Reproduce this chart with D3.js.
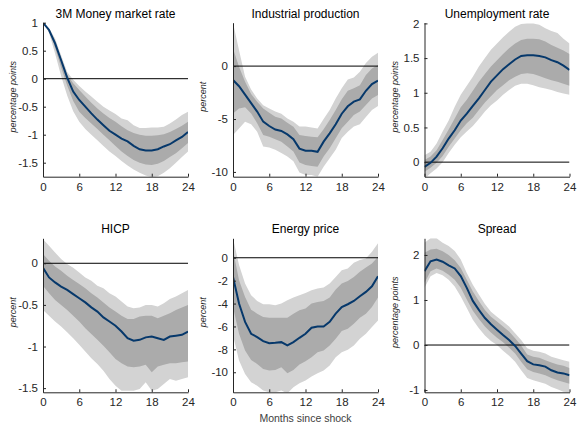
<!DOCTYPE html>
<html>
<head>
<meta charset="utf-8">
<script src="https://cdn.jsdelivr.net/npm/d3@7"></script>
<style>
  body { margin: 0; background: #fff; }
  svg text { font-family: "Liberation Sans", Arial, sans-serif; fill: #262626; }
</style>
</head>
<body>
<svg id="drawing_region"></svg>
<script>
// months since shock
var months = d3.range(0, 25);

// 3M Money market rate
var rateMed  = [1.0,0.87,0.63,0.33,0.02,-0.23,-0.38,-0.5,-0.62,-0.73,-0.83,-0.93,-1.0,-1.07,-1.12,-1.2,-1.26,-1.28,-1.28,-1.26,-1.21,-1.17,-1.1,-1.04,-0.95];
var rateIn   = [[1.0,0.85,0.55,0.2,-0.12,-0.4,-0.59,-0.7,-0.8,-0.9,-1.0,-1.1,-1.2,-1.3,-1.38,-1.45,-1.5,-1.53,-1.54,-1.52,-1.47,-1.4,-1.33,-1.24,-1.15],
                [1.0,0.88,0.68,0.37,0.07,-0.08,-0.2,-0.32,-0.43,-0.53,-0.62,-0.7,-0.77,-0.85,-0.92,-0.97,-1.0,-1.02,-1.02,-1.01,-0.99,-0.95,-0.9,-0.84,-0.77]];
var rateOut  = [[1.0,0.82,0.45,0.05,-0.3,-0.58,-0.77,-0.9,-1.0,-1.1,-1.2,-1.3,-1.38,-1.47,-1.55,-1.62,-1.68,-1.73,-1.76,-1.74,-1.68,-1.6,-1.5,-1.4,-1.3],
                [1.0,0.9,0.72,0.42,0.12,-0.02,-0.13,-0.23,-0.32,-0.41,-0.5,-0.57,-0.63,-0.71,-0.74,-0.83,-0.88,-0.88,-0.87,-0.87,-0.86,-0.8,-0.73,-0.65,-0.59]];

// Industrial production
var ipMed  = [-1.32,-1.9,-2.7,-3.5,-4.3,-5.25,-5.66,-6.0,-6.13,-6.45,-6.9,-7.8,-8.0,-8.0,-8.1,-7.14,-6.35,-5.5,-4.5,-3.8,-3.36,-3.15,-2.33,-1.7,-1.38];
var ipIn   = [[-4.47,-4.0,-3.9,-4.47,-5.4,-6.5,-6.67,-6.9,-7.14,-7.6,-8.08,-9.1,-9.34,-9.43,-9.5,-8.55,-7.77,-6.82,-5.88,-5.25,-4.62,-4.3,-3.68,-3.05,-2.74],
              [1.67,-0.06,-1.48,-2.64,-3.36,-4.0,-4.4,-4.78,-4.94,-5.35,-5.72,-6.5,-6.6,-6.67,-6.73,-5.97,-5.1,-4.15,-3.14,-2.33,-2.1,-1.8,-0.85,-0.22,0.1]];
var ipOut  = [[-6.5,-5.9,-5.25,-5.5,-6.2,-7.6,-7.7,-7.9,-8.2,-8.55,-9.0,-10.05,-10.3,-10.3,-10.45,-9.5,-8.7,-7.9,-6.8,-6.2,-5.7,-5.5,-4.8,-4.15,-3.77],
              [4.1,1.5,-1.0,-2.2,-3.05,-3.7,-4.0,-4.3,-4.5,-4.95,-5.25,-5.7,-5.7,-5.8,-5.9,-5.0,-4.15,-3.05,-2.1,-1.26,-1.07,-0.53,0.3,0.88,1.25]];

// Unemployment rate
var unMed  = [-0.07,-0.01,0.08,0.2,0.34,0.46,0.6,0.7,0.81,0.92,1.04,1.16,1.25,1.34,1.41,1.48,1.53,1.54,1.54,1.53,1.51,1.47,1.44,1.39,1.33];
var unIn   = [[-0.14,-0.08,-0.01,0.09,0.22,0.34,0.46,0.56,0.64,0.75,0.86,0.95,1.04,1.11,1.18,1.23,1.27,1.28,1.27,1.24,1.21,1.18,1.16,1.13,1.1],
              [0.03,0.08,0.17,0.32,0.47,0.63,0.79,0.9,1.03,1.16,1.27,1.38,1.47,1.56,1.64,1.71,1.76,1.78,1.78,1.77,1.74,1.69,1.65,1.61,1.56]];
var unOut  = [[-0.24,-0.16,-0.09,0.0,0.13,0.25,0.36,0.44,0.52,0.62,0.73,0.82,0.89,0.97,1.04,1.1,1.13,1.13,1.11,1.08,1.06,1.04,1.01,0.99,0.97],
              [0.1,0.15,0.27,0.44,0.6,0.8,0.97,1.1,1.23,1.38,1.5,1.62,1.71,1.8,1.88,1.95,1.99,2.0,2.0,1.98,1.93,1.89,1.86,1.78,1.71]];

// HICP
var hicpMed = [-0.055,-0.17,-0.23,-0.28,-0.32,-0.37,-0.42,-0.47,-0.53,-0.58,-0.65,-0.7,-0.75,-0.82,-0.9,-0.93,-0.92,-0.89,-0.88,-0.9,-0.92,-0.88,-0.87,-0.86,-0.82];
var hicpIn  = [[-0.27,-0.36,-0.44,-0.5,-0.56,-0.63,-0.7,-0.78,-0.85,-0.92,-0.99,-1.07,-1.15,-1.2,-1.24,-1.25,-1.24,-1.22,-1.31,-1.24,-1.22,-1.2,-1.2,-1.19,-1.18],
               [0.11,0.03,-0.04,-0.09,-0.15,-0.2,-0.25,-0.3,-0.36,-0.41,-0.47,-0.53,-0.58,-0.63,-0.67,-0.67,-0.64,-0.63,-0.63,-0.66,-0.63,-0.6,-0.56,-0.53,-0.5]];
var hicpOut = [[-0.56,-0.63,-0.7,-0.76,-0.83,-0.9,-0.98,-1.06,-1.14,-1.21,-1.29,-1.39,-1.47,-1.53,-1.53,-1.53,-1.51,-1.43,-1.53,-1.51,-1.45,-1.39,-1.41,-1.39,-1.37],
               [0.29,0.21,0.13,0.05,-0.01,-0.055,-0.11,-0.17,-0.21,-0.27,-0.3,-0.36,-0.4,-0.46,-0.52,-0.54,-0.53,-0.5,-0.5,-0.52,-0.48,-0.43,-0.4,-0.36,-0.32]];

// Energy price
var enMed  = [-1.67,-4.0,-5.6,-6.64,-6.93,-7.28,-7.46,-7.43,-7.37,-7.66,-7.37,-6.99,-6.64,-6.11,-6.0,-6.0,-5.6,-4.88,-4.3,-4.06,-3.77,-3.36,-2.98,-2.49,-1.61];
var enIn   = [[-4.3,-6.64,-8.1,-8.92,-9.27,-9.71,-9.85,-9.8,-9.56,-10.09,-9.8,-9.33,-9.04,-8.68,-8.25,-8.1,-7.66,-7.08,-6.4,-6.2,-5.76,-5.23,-4.88,-4.3,-3.48],
              [0.67,-1.96,-3.42,-4.53,-4.88,-5.18,-5.23,-5.23,-5.23,-5.23,-4.88,-4.59,-4.44,-4.0,-3.86,-3.77,-3.48,-2.78,-2.25,-2.02,-1.67,-1.23,-0.85,-0.5,0.09]];
var enOut  = [[-6.78,-8.98,-10.15,-10.88,-11.17,-11.6,-11.75,-11.75,-11.6,-11.84,-11.3,-10.96,-10.73,-10.38,-10.09,-9.85,-9.4,-8.68,-8.25,-8.04,-7.66,-7.08,-6.64,-6.05,-5.47],
              [1.7,-0.64,-2.25,-3.27,-3.77,-4.06,-4.06,-4.15,-4.0,-3.71,-3.48,-3.27,-3.07,-2.84,-2.69,-2.6,-2.25,-1.67,-1.08,-0.94,-0.44,-0.2,-0.06,0.53,1.26]];

// Spread
var spMed  = [1.64,1.86,1.9,1.85,1.77,1.7,1.53,1.27,0.98,0.78,0.6,0.46,0.34,0.22,0.11,-0.02,-0.19,-0.36,-0.43,-0.45,-0.48,-0.56,-0.61,-0.63,-0.67];
var spIn   = [[1.38,1.64,1.7,1.65,1.56,1.45,1.27,1.01,0.76,0.58,0.41,0.28,0.16,0.06,-0.06,-0.19,-0.37,-0.54,-0.6,-0.63,-0.67,-0.73,-0.78,-0.82,-0.86],
              [2.05,2.12,2.14,2.08,2.0,1.88,1.71,1.45,1.19,0.98,0.78,0.63,0.52,0.41,0.3,0.15,-0.01,-0.21,-0.26,-0.28,-0.34,-0.39,-0.43,-0.46,-0.51]];
var spOut  = [[1.27,1.53,1.6,1.55,1.45,1.3,1.08,0.82,0.56,0.37,0.21,0.09,0.0,-0.13,-0.24,-0.37,-0.56,-0.73,-0.78,-0.82,-0.86,-0.93,-0.98,-1.04,-1.05],
              [2.27,2.37,2.37,2.27,2.2,2.09,1.9,1.6,1.34,1.12,0.91,0.74,0.63,0.52,0.41,0.26,0.11,-0.07,-0.13,-0.15,-0.19,-0.26,-0.3,-0.34,-0.37]];

var titles  = ['3M Money market rate','Industrial production','Unemployment rate','HICP','Energy price','Spread'];
var ylabels = ['percentage points','percent','percentage points','percent','percent','percentage points'];
var xticks  = [0, 6, 12, 18, 24];
var yticks  = [[1,0.5,0,-0.5,-1,-1.5],[0,-5,-10],[0,0.5,1,1.5,2],[0,-0.5,-1,-1.5],[0,-2,-4,-6,-8,-10],[2,1,0,-1]];
var ydomains = [[-1.75,1],[-10.45,4.1],[-0.21,2.01],[-1.55,0.3],[-11.75,1.7],[-1.05,2.37]];

var panels = [
  {med: rateMed, inner: rateIn, outer: rateOut},
  {med: ipMed,   inner: ipIn,   outer: ipOut},
  {med: unMed,   inner: unIn,   outer: unOut},
  {med: hicpMed, inner: hicpIn, outer: hicpOut},
  {med: enMed,   inner: enIn,   outer: enOut},
  {med: spMed,   inner: spIn,   outer: spOut}
];

var config = {
  width: 577, height: 424,
  lefts: [43, 233, 424.5],
  tops: [22.7, 238.3],
  pw: 145, ph: 154,
  light: '#d3d3d3', dark: '#ababab', line: '#06386b'
};

var svg = d3.select('#drawing_region')
  .attr('width', config.width)
  .attr('height', config.height);

panels.forEach(function(p, i) {
  var col = i % 3, row = Math.floor(i / 3);
  var g = svg.append('g')
    .attr('transform', `translate(${config.lefts[col]},${config.tops[row]})`);

  var x = d3.scaleLinear().domain([0, 24]).range([0, config.pw]);
  var y = d3.scaleLinear().domain(ydomains[i]).range([config.ph, 0]);

  g.append('clipPath').attr('id', 'clip' + i)
    .append('rect').attr('width', config.pw).attr('height', config.ph);

  var plot = g.append('g').attr('clip-path', `url(#clip${i})`);

  var band = function(b) {
    return d3.area()
      .x(function(d) { return x(d); })
      .y0(function(d, j) { return y(b[0][j]); })
      .y1(function(d, j) { return y(b[1][j]); });
  };

  plot.append('path').datum(months)
    .attr('d', band(p.outer)).attr('fill', config.light);
  plot.append('path').datum(months)
    .attr('d', band(p.inner)).attr('fill', config.dark);

  plot.append('line')
    .attr('x1', x(0)).attr('x2', x(24))
    .attr('y1', y(0)).attr('y2', y(0))
    .attr('stroke', '#000').attr('stroke-width', 1);

  plot.append('path').datum(months)
    .attr('d', d3.line().x(function(d) { return x(d); }).y(function(d, j) { return y(p.med[j]); }))
    .attr('fill', 'none')
    .attr('stroke', config.line)
    .attr('stroke-width', 2);

  var xAxis = g.append('g')
    .attr('transform', `translate(0,${config.ph})`)
    .call(d3.axisBottom(x).tickValues(xticks).tickSizeInner(-3).tickSizeOuter(0).tickPadding(6));
  var yAxis = g.append('g')
    .call(d3.axisLeft(y).tickValues(yticks[i]).tickSizeInner(-3).tickSizeOuter(0).tickPadding(5)
      .tickFormat(function(d) { return d3.format('')(d).replace('\u2212', '-'); }));

  [xAxis, yAxis].forEach(function(a) {
    a.selectAll('path.domain').attr('stroke', '#262626');
    a.selectAll('.tick line').attr('stroke', '#262626');
    a.selectAll('.tick text').attr('font-size', '11.5px').attr('font-family', null).style('fill', '#262626');
  });

  g.append('text')
    .attr('x', config.pw / 2).attr('y', -5)
    .attr('text-anchor', 'middle')
    .attr('font-size', '12px')
    .style('fill', '#000')
    .text(titles[i]);

  g.append('text')
    .attr('transform', `translate(-27,${config.ph / 2 - 3}) rotate(-90)`)
    .attr('text-anchor', 'middle')
    .attr('font-size', '9px')
    .attr('font-style', 'italic')
    .text(ylabels[i]);

  if (i === 4) {
    g.append('text')
      .attr('x', config.pw / 2).attr('y', config.ph + 30)
      .attr('text-anchor', 'middle')
      .attr('font-size', '10.5px')
      .style('fill', '#404040')
      .text('Months since shock');
  }
});
</script>
</body>
</html>
